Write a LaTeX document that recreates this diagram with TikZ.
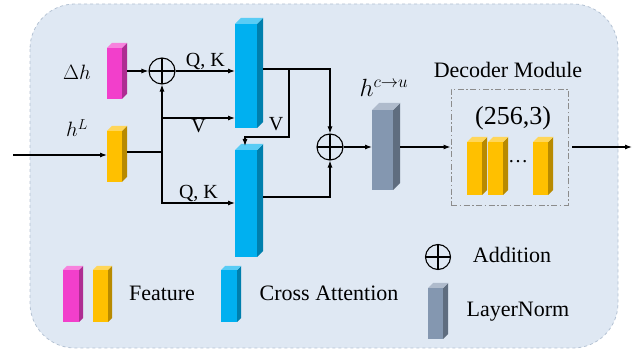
\documentclass[tikz,border=0pt]{standalone}
\usepackage{fontspec}
\setmainfont{Liberation Serif}
\usetikzlibrary{arrows.meta,calc}
\definecolor{bgC}{HTML}{DFE8F3}
\definecolor{borderC}{HTML}{B4C2D3}
\definecolor{magC}{HTML}{F23FCB}
\definecolor{yelC}{HTML}{FFC000}
\definecolor{bluC}{HTML}{00B0F0}
\definecolor{graC}{HTML}{8497B0}
\newcommand\cubebar[7]{%
  \node[inner sep=0pt, outer sep=0pt, minimum width=#4pt, minimum height=#5pt, fill=#7, anchor=north west] (#1) at (#2,#3) {};
  \fill[#7!72!black] (#1.north east) -- ++(#6,-#6) -- ([shift={(#6,-#6)}]#1.south east) -- (#1.south east) -- cycle;
  \fill[#7!65!white] (#1.north west) -- ++(#6,-#6) -- ([shift={(#6,-#6)}]#1.north east) -- (#1.north east) -- cycle;
  \coordinate (#1-r) at ([xshift=#6pt]#1.east);
}
\tikzset{
  arr/.style={-{Latex[length=7pt,width=5pt]}, line width=1.1pt},
  ln/.style={line width=1.1pt},
  lbl/.style={font=\fontsize{20}{24}\selectfont, inner sep=1pt},
  leg/.style={font=\fontsize{22}{26}\selectfont, inner sep=1pt},
  plus/.style={circle, draw, line width=1.1pt, minimum size=26pt, inner sep=0pt,
    path picture={\draw[line width=1.1pt] (path picture bounding box.north) -- (path picture bounding box.south)
      (path picture bounding box.west) -- (path picture bounding box.east);}},
}
\begin{document}
\begin{tikzpicture}[x=1pt,y=-1pt]
\useasboundingbox (0,0) rectangle (637,352);
\draw[rounded corners=45pt, fill=bgC, draw=borderC, dashed, line width=0.8pt] (30,4) rectangle (618,348);
% feature bars
\cubebar{dh}{107}{48}{15}{51}{5}{magC}
\cubebar{hl}{107}{131}{15}{51}{5}{yelC}
% cross attention
\cubebar{caa}{235}{24}{22}{104}{6}{bluC}
\cubebar{cab}{235}{150}{22}{107}{6}{bluC}
% layer norm
\cubebar{lnb}{372}{110}{21}{80}{7}{graC}
% plus nodes
\node[plus] (p1) at (162,71) {};
\node[plus] (p2) at (330,147) {};
% decoder
\node[draw=black!45, line width=0.9pt, dash pattern=on 6pt off 2.5pt on 1.5pt off 2.5pt, minimum width=117pt, minimum height=116pt, inner sep=0pt] (dec) at (509.5,147) {};
\cubebar{da}{467}{142}{15}{53}{5}{yelC}
\cubebar{db}{488}{142}{15}{53}{5}{yelC}
\cubebar{dc}{533}{142}{15}{53}{5}{yelC}
\node[lbl] (dots) at (518,162) {\dots};
\node[leg] (dmt) at (508,70) {Decoder Module};
\node[lbl, font=\fontsize{26}{30}\selectfont] (dsz) at (513,118) {(256,3)};
% labels
\node[lbl, font=\fontsize{21}{24}\selectfont] (ldh) at (77,72) {$\Delta h$};
\node[lbl, font=\fontsize{21}{24}\selectfont] (lhl) at (77,128) {$h^{L}$};
\node[lbl, font=\fontsize{24}{28}\selectfont] (lhc) at (384,88) {$h^{c\to u}$};
% connectors
\coordinate (in) at (13,155);
\draw[arr] (in) -- (in -| hl.west);
\draw[arr] (dh-r |- p1) -- (p1.west);
\coordinate (j) at (162,152);
\draw[ln] (hl-r |- j) -- (j);
\draw[arr] (j) -- (p1.south);
\coordinate (jv) at (162,118);
\draw[arr] (jv) -- node[lbl, below] {V} (jv -| caa.west);
\coordinate (jq) at (162,203);
\draw[arr] (j) -- (jq) -- node[lbl, above] {Q, K} (jq -| cab.west);
\draw[arr] (p1.east) -- node[lbl, above] {Q, K} (p1 -| caa.west);
\coordinate (o1) at (263,69);
\draw[arr] (o1) -| (p2.north);
\coordinate (b1) at (289,69);
\coordinate (b2) at (245,137);
\coordinate (b3) at (245,146);
\draw[arr] (b1) |- (b2) -- (b3);
\node[lbl] (lv2) at (276,124) {V};
\coordinate (o2) at (263,197);
\draw[arr] (o2) -| (p2.south);
\draw[arr] (p2.east) -- (p2 -| lnb.west);
\draw[arr] (lnb-r |- p2) -- (dec.west);
\coordinate (out) at (632,147);
\draw[arr] (dec.east) ++(4,0) -- (out);
% legend
\cubebar{lga}{63}{270}{16}{52}{4}{magC}
\cubebar{lgb}{93}{270}{15}{52}{4}{yelC}
\node[leg] (lfeat) at (162,293) {Feature};
\cubebar{lgc}{221}{270}{16}{52}{4}{bluC}
\node[leg] (lca) at (329,293) {Cross Attention};
\node[plus, minimum size=25pt] (lp) at (438,257) {};
\node[leg] (ladd) at (512,255) {Addition};
\cubebar{lgd}{428}{288}{15}{51}{5}{graC}
\node[leg] (lln) at (518,312) {LayerNorm};
\end{tikzpicture}
\end{document}
